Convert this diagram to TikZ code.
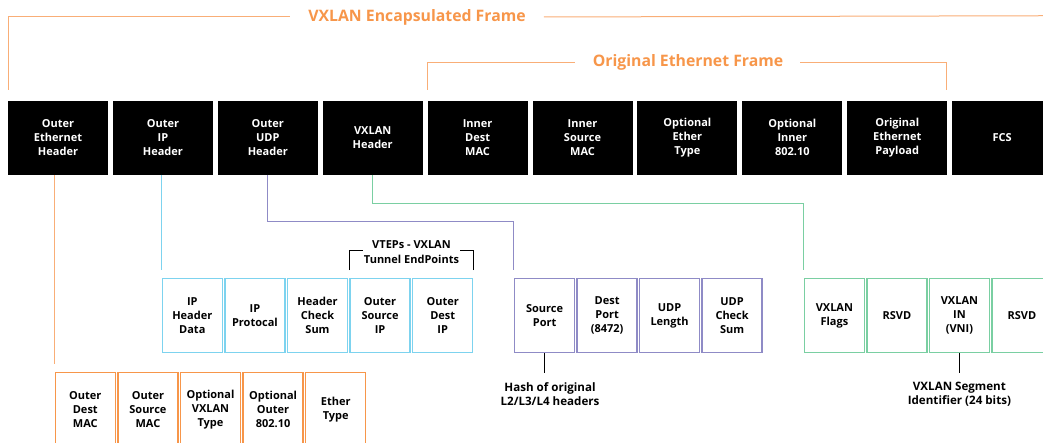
\documentclass[tikz,border=0pt]{standalone}
\usepackage{fontspec}
\setmainfont{Open Sans}
\definecolor{orn}{HTML}{F7964A}
\definecolor{ornline}{HTML}{F9AE77}
\definecolor{cyn}{HTML}{7DD3EF}
\definecolor{prp}{HTML}{8F8BC6}
\definecolor{grn}{HTML}{7ACFA2}
\begin{document}
\begin{tikzpicture}[x=1pt,y=-1pt,
  topbox/.style={fill=black,text=white,minimum width=100pt,minimum height=74pt,inner sep=0pt,align=center,font=\bfseries\fontsize{11}{14}\selectfont},
  subbox/.style={fill=white,minimum width=60pt,minimum height=74pt,inner sep=0pt,align=center,line width=1.3pt,font=\bfseries\fontsize{11}{14}\selectfont},
  obox/.style={subbox,draw=orn},
  cbox/.style={subbox,draw=cyn},
  pbox/.style={subbox,draw=prp},
  gbox/.style={subbox,draw=grn},
  title/.style={text=orn,font=\bfseries\fontsize{15.8}{18}\selectfont,inner sep=0pt},
  note/.style={align=center,inner sep=0pt,font=\bfseries\fontsize{11.6}{14.6}\selectfont},
  oline/.style={draw=ornline,line width=1pt},
  cline/.style={draw=cyn,line width=1pt},
  pline/.style={draw=prp,line width=1pt},
  gline/.style={draw=grn,line width=1pt},
  kline/.style={draw=black,line width=1pt}]
\useasboundingbox (0,0) rectangle (1043,443);
% top row
\node[topbox] (h1) at (58,137.7) {Outer\\Ethernet\\Header};
\node[topbox] (h2) at (162.9,137.7) {Outer\\IP\\Header};
\node[topbox] (h3) at (267.8,137.7) {Outer\\UDP\\Header};
\node[topbox] (h4) at (372.7,137.7) {VXLAN\\Header};
\node[topbox] (h5) at (477.6,137.7) {Inner\\Dest\\MAC};
\node[topbox] (h6) at (582.5,137.7) {Inner\\Source\\MAC};
\node[topbox] (h7) at (687.4,137.7) {Optional\\Ether\\Type};
\node[topbox] (h8) at (792.3,137.7) {Optional\\Inner\\802.10};
\node[topbox] (h9) at (897.2,137.7) {Original\\Ethernet\\Payload};
\node[topbox] (h10) at (1002.1,137.7) {FCS};
% frame brackets
\node[title] (t1) at (417,17) {VXLAN Encapsulated Frame};
\coordinate (a1) at (8,90);
\coordinate (a2) at (1060,15.7);
\draw[oline] (a1) |- ([xshift=-18pt]t1.west);
\draw[oline] ([xshift=18pt]t1.east) -- (a2);
\node[title] (t2) at (688,62.7) {Original Ethernet Frame};
\coordinate (b1) at (427.7,90);
\coordinate (b2) at (946.7,90);
\draw[oline] (b1) |- ([xshift=-18pt]t2.west);
\draw[oline] (b2) |- ([xshift=17pt]t2.east);
% orange row
\node[obox] (o1) at (85.3,409.7) {Outer\\Dest\\MAC};
\node[obox] (o2) at (147.9,409.7) {Outer\\Source\\MAC};
\node[obox] (o3) at (210.5,409.7) {Optional\\VXLAN\\Type};
\node[obox] (o4) at (273.1,409.7) {Optional\\Outer\\802.10};
\node[obox] (o5) at (335.7,409.7) {Ether\\Type};
\draw[oline] (o1.west |- h1.south) -- ([yshift=8pt]o1.north west);
% cyan row
\node[cbox] (c1) at (192.3,315.8) {IP\\Header\\Data};
\node[cbox] (c2) at (254.9,315.8) {IP\\Protocal};
\node[cbox] (c3) at (317.5,315.8) {Header\\Check\\Sum};
\node[cbox] (c4) at (380.1,315.8) {Outer\\Source\\IP};
\node[cbox] (c5) at (442.7,315.8) {Outer\\Dest\\IP};
\draw[cline] (c1.west |- h2.south) -- ([yshift=8pt]c1.north west);
% VTEPs bracket
\node[note,inner xsep=1pt,font=\bfseries\fontsize{11}{14.6}\selectfont] (vt) at (411.5,252) {VTEPs - VXLAN\\Tunnel EndPoints};
\coordinate (bk) at (0,251);
\draw[kline] ([yshift=8pt]c4.north west) |- (vt.west |- bk);
\draw[kline] ([yshift=8pt]c5.north east) |- (vt.east |- bk);
% purple row
\node[pbox] (p1) at (544.6,315.8) {Source\\Port};
\node[pbox] (p2) at (607.1,315.8) {Dest\\Port\\(8472)};
\node[pbox] (p3) at (669.6,315.8) {UDP\\Length};
\node[pbox] (p4) at (732.1,315.8) {UDP\\Check\\Sum};
\coordinate (pl) at (0,222);
\draw[pline] (h3.south) |- (p1.north west |- pl) -- ([yshift=8pt]p1.north west);
\node[note] (hash) at (550,394.3) {Hash of original\\L2/L3/L4 headers};
\draw[kline] (p1.south) -- ([yshift=-19.7pt]p1.south);
% green row
\node[gbox] (g1) at (834.4,315.8) {VXLAN\\Flags};
\node[gbox] (g2) at (896.9,315.8) {RSVD};
\node[gbox] (g3) at (959.4,315.8) {VXLAN\\IN\\(VNI)};
\node[gbox] (g4) at (1021.9,315.8) {RSVD};
\coordinate (gl) at (0,203.3);
\draw[gline] (h4.south) |- (g1.north west |- gl) -- ([yshift=8pt]g1.north west);
\node[note] (seg) at (959.4,394.3) {VXLAN Segment\\Identifier (24 bits)};
\draw[kline] (g3.south) -- ([yshift=-19.7pt]g3.south);
\end{tikzpicture}
\end{document}
